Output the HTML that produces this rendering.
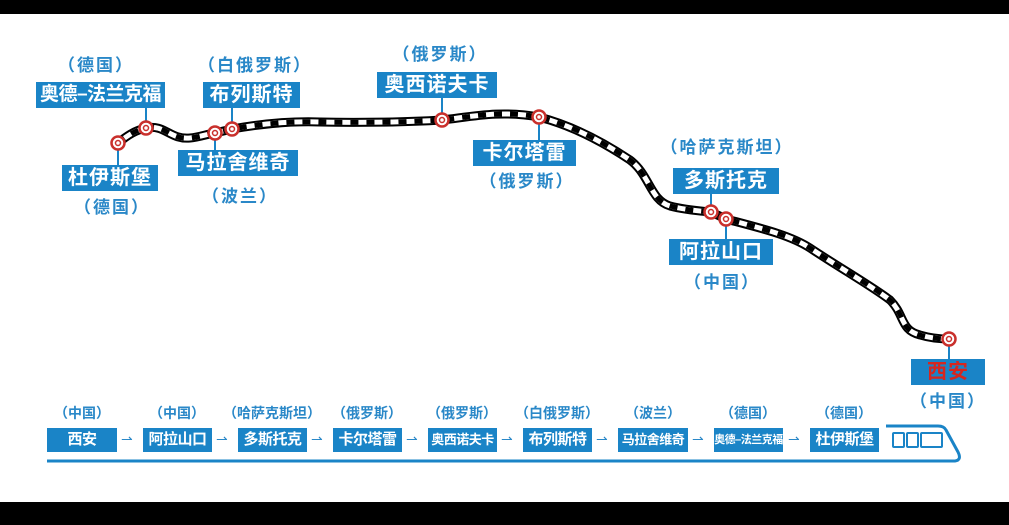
<!DOCTYPE html>
<html><head><meta charset="utf-8"><style>
html,body{margin:0;padding:0;background:#fff}
body{width:1009px;height:525px;position:relative;overflow:hidden;font-family:"Liberation Sans","Noto Sans CJK SC",sans-serif}
.bar{position:absolute;left:0;width:1009px;background:#000}
.b{position:absolute;background:#1a84c7;color:#fff;font-weight:bold;font-size:20px;line-height:26px;text-align:center;letter-spacing:1px;white-space:nowrap}
.c{position:absolute;color:#2a88c8;font-size:17px;line-height:20px;text-align:center;white-space:nowrap;transform:translateX(-50%);letter-spacing:2px;font-weight:bold}
.s{position:absolute;background:#1a84c7;color:#fff;font-weight:bold;font-size:15px;line-height:24px;text-align:center;white-space:nowrap;letter-spacing:-0.5px;overflow:hidden}
.sc{position:absolute;color:#2a88c8;font-size:14px;line-height:16px;text-align:center;white-space:nowrap;transform:translateX(-50%);font-weight:bold}
.ar{position:absolute;color:#2a88c8;font-size:14px;top:431px}
</style></head><body>
<div class="bar" style="top:0;height:14px"></div>
<div class="bar" style="top:502px;height:23px"></div>
<svg width="1009" height="525" style="position:absolute;left:0;top:0">
<defs>
<path id="t" d="M118,143 C128,135 136,130 146,128 C165,124 170,140 190,138 C200,137 207,134 215,133 L232,129 C260,124 290,121 320,122 C360,123 410,122 442,120 C470,117 500,110 539,117 C570,125 600,140 630,160 C650,175 650,200 670,206 C685,210 700,211 711,212 L726,219 C760,228 790,235 810,248 C840,268 870,285 890,300 C905,315 900,330 920,335 C930,338 940,339 949,339"/>
<g id="n"><circle r="6.5" stroke-width="2.5"/><circle r="2.5" stroke-width="1.5"/></g>
</defs>
<g fill="none" stroke-linejoin="round">
<use href="#t" stroke="#000" stroke-width="9" stroke-linecap="round"/>
<use href="#t" stroke="#fff" stroke-width="5"/>
<use href="#t" stroke="#000" stroke-width="5" stroke-dasharray="8 8"/>
</g>
<g stroke="#1a84c7" stroke-width="2">
<line x1="118" y1="143" x2="118" y2="165"/><line x1="146" y1="128" x2="146" y2="108"/>
<line x1="215" y1="133" x2="215" y2="150"/><line x1="232" y1="129" x2="232" y2="108"/>
<line x1="442" y1="120" x2="442" y2="98"/><line x1="539" y1="117" x2="539" y2="140"/>
<line x1="711" y1="212" x2="711" y2="194"/><line x1="726" y1="219" x2="726" y2="239"/>
<line x1="949" y1="339" x2="949" y2="359"/>
</g>
<g fill="#fff" stroke="#c9302c">
<use href="#n" x="118" y="143"/><use href="#n" x="146" y="128"/><use href="#n" x="215" y="133"/><use href="#n" x="232" y="129"/>
<use href="#n" x="442" y="120"/><use href="#n" x="539" y="117"/><use href="#n" x="711" y="212"/><use href="#n" x="726" y="219"/><use href="#n" x="949" y="339"/>
</g>
<g fill="none" stroke="#1a84c7" stroke-width="3" stroke-linejoin="round">
<path d="M47,461 L955,461 Q962,460 958,452 L946,430 Q944,426 938,426 L886,426"/>
</g>
<g fill="none" stroke="#1a84c7" stroke-width="2">
<rect x="893" y="433" width="11" height="14" rx="1"/><rect x="907" y="433" width="11" height="14" rx="1"/><rect x="921" y="433" width="21" height="14" rx="1"/>
</g>
</svg>
<div class="c" style="left:96px;top:56px">（德国）</div>
<div class="b" style="left:36px;top:82px;width:129px;letter-spacing:-0.5px;font-size:19px">奥德–法兰克福</div>
<div class="c" style="left:255px;top:56px">（白俄罗斯）</div>
<div class="b" style="left:203px;top:82px;width:97px">布列斯特</div>
<div class="b" style="left:62px;top:165px;width:96px">杜伊斯堡</div>
<div class="c" style="left:112px;top:198px">（德国）</div>
<div class="b" style="left:178px;top:150px;width:120px">马拉舍维奇</div>
<div class="c" style="left:240px;top:187px">（波兰）</div>
<div class="c" style="left:440px;top:45px">（俄罗斯）</div>
<div class="b" style="left:377px;top:72px;width:120px">奥西诺夫卡</div>
<div class="b" style="left:473px;top:140px;width:103px">卡尔塔雷</div>
<div class="c" style="left:527px;top:172px">（俄罗斯）</div>
<div class="c" style="left:727px;top:138px">（哈萨克斯坦）</div>
<div class="b" style="left:673px;top:168px;width:106px">多斯托克</div>
<div class="b" style="left:669px;top:239px;width:104px">阿拉山口</div>
<div class="c" style="left:722px;top:273px">（中国）</div>
<div class="b" style="left:911px;top:359px;width:74px;color:#d7261e">西安</div>
<div class="c" style="left:948px;top:392px">（中国）</div>

<div class="sc" style="left:82px;top:405px">（中国）</div><div class="s" style="left:47px;top:428px;width:70px">西安</div>
<div class="ar" style="left:121px">⇀</div>
<div class="sc" style="left:177px;top:405px">（中国）</div><div class="s" style="left:143px;top:428px;width:69px">阿拉山口</div>
<div class="ar" style="left:216px">⇀</div>
<div class="sc" style="left:272px;top:405px">（哈萨克斯坦）</div><div class="s" style="left:238px;top:428px;width:69px">多斯托克</div>
<div class="ar" style="left:311px">⇀</div>
<div class="sc" style="left:367px;top:405px">（俄罗斯）</div><div class="s" style="left:333px;top:428px;width:69px">卡尔塔雷</div>
<div class="ar" style="left:406px">⇀</div>
<div class="sc" style="left:462px;top:405px">（俄罗斯）</div><div class="s" style="left:428px;top:428px;width:69px;font-size:13px">奥西诺夫卡</div>
<div class="ar" style="left:501px">⇀</div>
<div class="sc" style="left:557px;top:405px">（白俄罗斯）</div><div class="s" style="left:523px;top:428px;width:69px">布列斯特</div>
<div class="ar" style="left:596px">⇀</div>
<div class="sc" style="left:653px;top:405px">（波兰）</div><div class="s" style="left:618px;top:428px;width:70px;font-size:13px">马拉舍维奇</div>
<div class="ar" style="left:692px">⇀</div>
<div class="sc" style="left:748px;top:405px">（德国）</div><div class="s" style="left:714px;top:428px;width:69px;font-size:11px">奥德–法兰克福</div>
<div class="ar" style="left:788px">⇀</div>
<div class="sc" style="left:844px;top:405px">（德国）</div><div class="s" style="left:810px;top:428px;width:69px">杜伊斯堡</div>
</body></html>
